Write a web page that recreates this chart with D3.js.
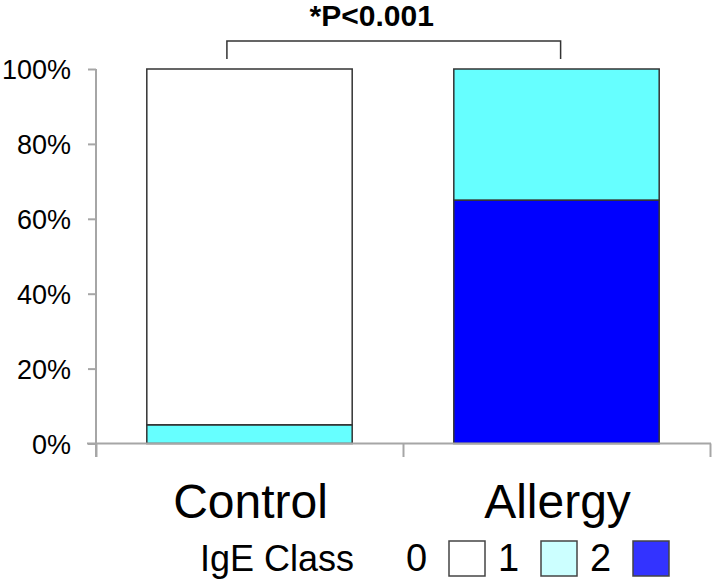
<!DOCTYPE html>
<html>
<head>
<meta charset="utf-8">
<script src="https://cdn.jsdelivr.net/npm/d3@7"></script>
<style>
  body { margin: 0; background: #fff; }
  text { font-family: "Liberation Sans", Arial, sans-serif; fill: #000; }
</style>
</head>
<body>
<svg id="chart" width="717" height="583"></svg>
<script>
// data (percent of group)
var categories = ["Control", "Allergy"];
var classes = ["0", "1", "2"];
var class0 = [95, 0];
var class1 = [5, 35];
var class2 = [0, 65];
var yTicks = [0, 20, 40, 60, 80, 100];
var pLabel = "*P<0.001";

var barColors = {"0": "#ffffff", "1": "#66ffff", "2": "#0000ff"};
var legendColors = {"0": "#ffffff", "1": "#ccffff", "2": "#3333ff"};
var axisGrey = "#a6a6a6";

var svg = d3.select("#chart");

var rows = categories.map(function(c, i) {
  return {cat: c, "0": class0[i], "1": class1[i], "2": class2[i]};
});
// stack from bottom: class 2, then 1, then 0
var stack = d3.stack().keys(["2", "1", "0"]);
var series = stack(rows);

var x = d3.scaleBand().domain(categories).range([96, 710])
  .paddingInner(0.331).paddingOuter(0.1655);
var xEdge = d3.scaleLinear().domain([0, categories.length]).range([96, 710]);
var y = d3.scaleLinear().domain([0, 100]).range([443.5, 69]);

// bars
svg.append("g").selectAll("g")
  .data(series)
  .enter().append("g")
    .attr("fill", function(d) { return barColors[d.key]; })
  .selectAll("rect")
  .data(function(d) { return d.filter(function(p) { return p[1] - p[0] > 0; }); })
  .enter().append("rect")
    .attr("x", function(d) { return x(d.data.cat); })
    .attr("width", x.bandwidth())
    .attr("y", function(d) { return y(d[1]); })
    .attr("height", function(d) { return y(d[0]) - y(d[1]); })
    .attr("stroke", "#333")
    .attr("stroke-width", 1.5);

// y axis
var yAxis = svg.append("g")
  .attr("transform", "translate(96,0)")
  .call(d3.axisLeft(y).tickValues(yTicks).tickSize(8).tickSizeOuter(0)
    .tickFormat(function(d) { return d + "%"; }));
yAxis.select(".domain").remove();
yAxis.selectAll(".tick line").attr("stroke", axisGrey).attr("stroke-width", 2);
yAxis.selectAll(".tick text")
  .attr("x", -25).attr("dy", "0.36em")
  .style("font-size", "27px").style("font-family", "Liberation Sans, Arial, sans-serif");
yAxis.append("line")
  .attr("x1", 0).attr("x2", 0).attr("y1", y(100)).attr("y2", 457)
  .attr("stroke", axisGrey).attr("stroke-width", 2);

// x axis with ticks between the groups
var xAxis = svg.append("g")
  .attr("transform", "translate(0," + y(0) + ")")
  .call(d3.axisBottom(xEdge).tickValues(d3.range(categories.length + 1))
    .tickSize(13.5).tickSizeOuter(0).tickFormat(""));
xAxis.select(".domain").remove();
xAxis.selectAll(".tick line").attr("stroke", axisGrey).attr("stroke-width", 2);
xAxis.append("line")
  .attr("x1", 87).attr("x2", xEdge(categories.length) + 1).attr("y1", 0).attr("y2", 0)
  .attr("stroke", axisGrey).attr("stroke-width", 2);

// category labels
svg.append("g").selectAll("text")
  .data(categories)
  .enter().append("text")
    .attr("x", function(d) { return x(d) + x.bandwidth() / 2 + 1; })
    .attr("y", 518)
    .attr("text-anchor", "middle")
    .style("font-size", "48px")
    .text(function(d) { return d; });

// significance bracket
var bx1 = x(categories[0]) + x.bandwidth() * 0.39;
var bx2 = x(categories[1]) + x.bandwidth() * 0.52;
svg.append("path")
  .attr("d", "M" + bx1 + "," + 59 + "V41H" + bx2 + "V59")
  .attr("fill", "none").attr("stroke", "#333").attr("stroke-width", 1.5);
svg.append("text")
  .attr("x", (bx1 + bx2) / 2 - 22).attr("y", 26)
  .attr("text-anchor", "middle")
  .style("font-size", "30px").style("font-weight", "bold")
  .text(pLabel);

// legend
var legend = svg.append("g");
legend.append("text")
  .attr("x", 200).attr("y", 571)
  .style("font-size", "36px")
  .text("IgE Class");
var legX = d3.scalePoint().domain(classes).range([408, 592]);
var item = legend.selectAll("g.item")
  .data(classes)
  .enter().append("g").attr("class", "item")
    .attr("transform", function(d) { return "translate(" + legX(d) + ",0)"; });
item.append("text")
  .attr("x", -2).attr("y", 571)
  .style("font-size", "38px")
  .text(function(d) { return d; });
item.append("rect")
  .attr("x", 41).attr("y", 541).attr("width", 36).attr("height", 35)
  .attr("fill", function(d) { return legendColors[d]; })
  .attr("stroke", "#444").attr("stroke-width", 1.5);
</script>
</body>
</html>
